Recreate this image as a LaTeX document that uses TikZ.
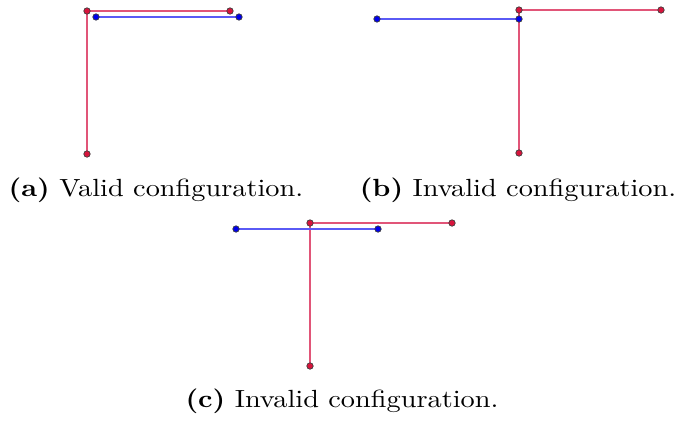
\documentclass[tikz,border=0pt]{standalone}
\usepackage{graphicx}
\begin{document}
\begin{tikzpicture}[x=0.4348pt, y=-0.4348pt,
  redseg/.style={draw=cRedLine, line width=0.55pt},
  blueseg/.style={draw=cBlueLine, line width=0.55pt},
  redpt/.style={circle, fill=cRed, draw=black!75, line width=0.3pt, inner sep=0pt, minimum size=2.8pt},
  bluept/.style={circle, fill=cBlue, draw=black!75, line width=0.3pt, inner sep=0pt, minimum size=2.8pt},
  caption/.style={font=\fontsize{10.8}{13}\selectfont, anchor=base}]

\definecolor{cRed}{RGB}{215,20,60}
\definecolor{cRedLine}{RGB}{225,85,120}
\definecolor{cBlue}{RGB}{0,0,235}
\definecolor{cBlueLine}{RGB}{90,90,245}

\newcommand{\capt}[2]{\scalebox{1.14}[1]{\textbf{(#1)} #2}}

\useasboundingbox (0,0) rectangle (684,421);

%% ---------- (a) valid ----------
\coordinate (a1) at (87,11);
\coordinate (a2) at (230,11);
\coordinate (a3) at (87,154);
\coordinate (a4) at (96,17);
\coordinate (a5) at (239,17);
\draw[redseg] (a2) -- (a1) -- (a3);
\draw[blueseg] (a4) -- (a5);
\foreach \p in {a1,a2,a3} \node[redpt] at (\p) {};
\foreach \p in {a4,a5} \node[bluept] at (\p) {};
\node[caption] (capa) at (156,196) {\capt{a}{Valid configuration.}};

%% ---------- (b) invalid ----------
\coordinate (b1) at (519,10);
\coordinate (b2) at (661,10);
\coordinate (b3) at (519,153);
\coordinate (b4) at (377,19);
\coordinate (b5) at (519,19);
\draw[redseg] (b2) -- (b1) -- (b3);
\draw[blueseg] (b4) -- (b5);
\foreach \p in {b1,b2,b3} \node[redpt] at (\p) {};
\foreach \p in {b4,b5} \node[bluept] at (\p) {};
\node[caption] (capb) at (518,196) {\capt{b}{Invalid configuration.}};

%% ---------- (c) invalid ----------
\coordinate (c1) at (310,223);
\coordinate (c2) at (452,223);
\coordinate (c3) at (310,366);
\coordinate (c4) at (236,229);
\coordinate (c5) at (378,229);
\draw[redseg] (c2) -- (c1) -- (c3);
\draw[blueseg] (c4) -- (c5);
\foreach \p in {c1,c2,c3} \node[redpt] at (\p) {};
\foreach \p in {c4,c5} \node[bluept] at (\p) {};
\node[caption] (capc) at (342,407) {\capt{c}{Invalid configuration.}};

\end{tikzpicture}
\end{document}
